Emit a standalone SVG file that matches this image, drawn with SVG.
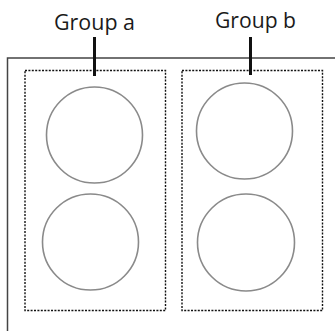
<svg xmlns="http://www.w3.org/2000/svg" width="335" height="331" viewBox="0 0 335 331">
<style>
.lbl{font-family:"Open Sans","Liberation Sans",sans-serif;font-size:21px;fill:#1a1a1a}
.grp{fill:none;stroke:#111;stroke-width:1.4;stroke-dasharray:2 1.4}
.c{fill:#fff;stroke:#8a8a8a;stroke-width:1.6}
.lead{stroke:#111;stroke-width:3}
</style>
<rect width="335" height="331" fill="#fff"/>
<g id="outer"><path d="M340 58 H7.5 V340" fill="none" stroke="#444" stroke-width="1.5"/></g>
<g id="groupA">
<rect class="grp" x="25" y="70.5" width="140.5" height="240"/>
<text class="lbl" x="54" y="29.5" textLength="81" lengthAdjust="spacingAndGlyphs">Group a</text>
</g>
<g id="groupB">
<rect class="grp" x="182" y="70.5" width="140.5" height="240"/>
<text class="lbl" x="215" y="27.5" textLength="81" lengthAdjust="spacingAndGlyphs">Group b</text>
</g>
<g id="a1"><circle class="c" cx="94.5" cy="135" r="48"/></g>
<g id="a2"><circle class="c" cx="90.5" cy="242" r="48"/></g>
<g id="b1"><circle class="c" cx="244.5" cy="131" r="48"/></g>
<g id="b2"><circle class="c" cx="246" cy="242.5" r="48.5"/></g>
<g id="connectors">
<line class="lead" x1="94.5" y1="37" x2="94.5" y2="76"/>
<line class="lead" x1="250.5" y1="37" x2="250.5" y2="75"/>
</g>
</svg>
